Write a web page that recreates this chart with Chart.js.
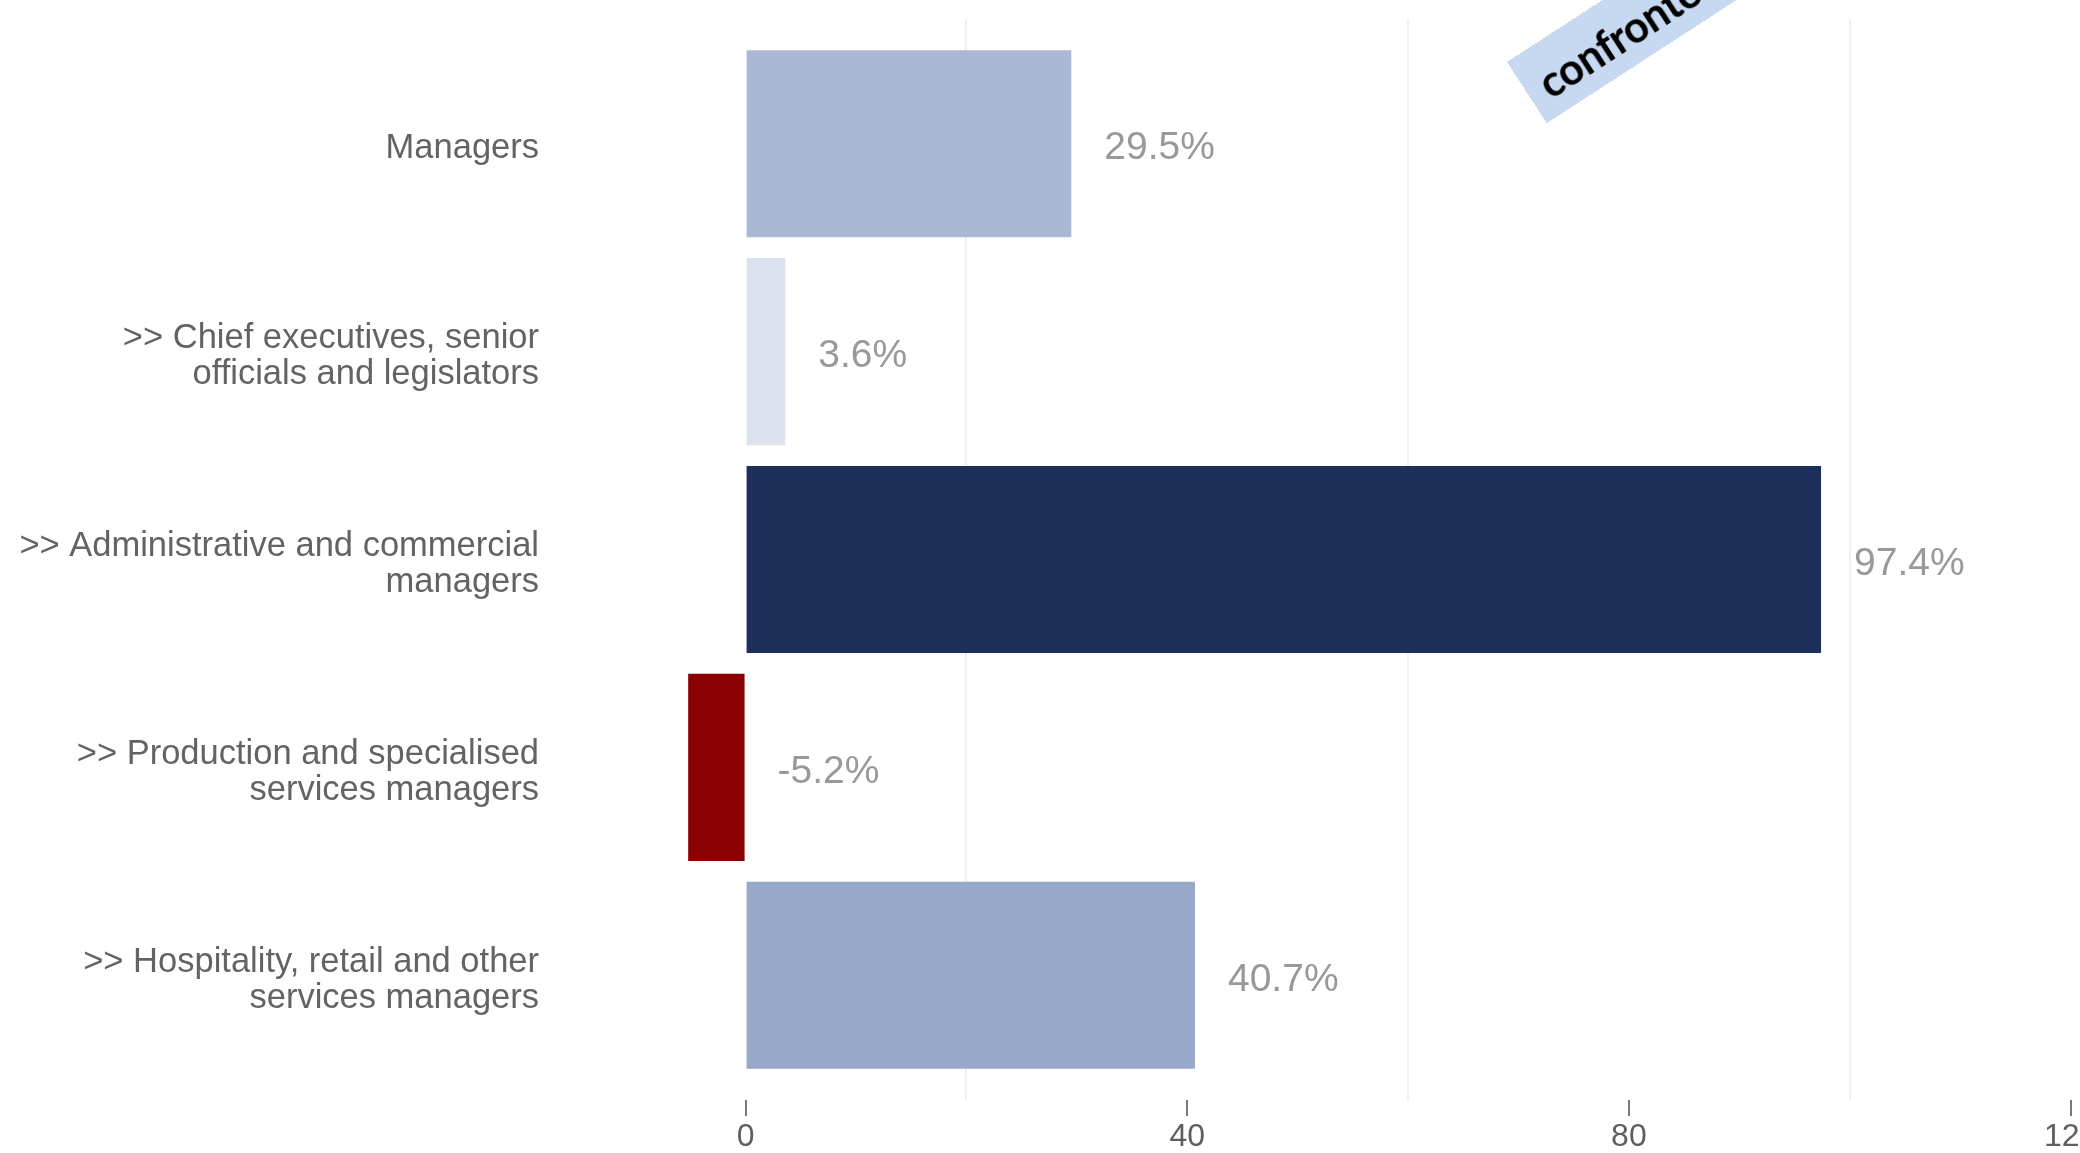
<!DOCTYPE html>
<html>
<head>
<meta charset="utf-8">
<script src="https://cdn.jsdelivr.net/npm/chart.js@4.4.1/dist/chart.umd.min.js"></script>
<style>
    html, body { margin: 0; padding: 0; background: #fff; overflow: hidden; }
    #wrap { position: relative; width: 2080px; height: 1153px; overflow: hidden; }
    #chart { position: absolute; left: 0; top: 0; }
    .ribbon {
        position: absolute;
        left: 1507px;
        top: 62px;
        width: 620px;
        height: 73px;
        background: #C6D9F0;
        transform: rotate(-33deg);
        transform-origin: 0 0;
        font-family: Lato, "Open Sans", sans-serif;
        font-weight: bold;
        font-size: 43px;
        letter-spacing: -0.5px;
        line-height: 80px;
        padding-left: 16px;
        box-sizing: border-box;
        color: #000;
        white-space: nowrap;
        overflow: hidden;
    }
</style>
</head>
<body>
<div id="wrap">
    <canvas id="chart" width="2200" height="1153"></canvas>
    <div class="ribbon">confronto internazionale</div>
</div>
<script>
const categories = [
    ["Managers"],
    [">> Chief executives, senior", "officials and legislators"],
    [">> Administrative and commercial", "managers"],
    [">> Production and specialised", "services managers"],
    [">> Hospitality, retail and other", "services managers"]
];
const changes = [29.5, 3.6, 97.4, -5.2, 40.7];
const barColors = ['#AAB8D4', '#DCE3EE', '#1C2E5A', '#8B0000', '#97A8C9'];
const xTicks = [0, 20, 40, 60, 80, 100, 120];

// percentage next to each bar, to the right of the zero line for negatives
const valueLabels = {
    id: 'valueLabels',
    afterDatasetsDraw(chart) {
        const ctx = chart.ctx;
        const meta = chart.getDatasetMeta(0);
        ctx.save();
        ctx.font = '39px "Liberation Sans", Arial, sans-serif';
        ctx.fillStyle = '#999999';
        ctx.textAlign = 'left';
        ctx.textBaseline = 'middle';
        meta.data.forEach((bar, i) => {
            const x = Math.max(bar.x, bar.base) + 33;
            ctx.fillText(changes[i].toFixed(1) + '%', x, bar.y + 5);
        });
        ctx.restore();
    }
};

new Chart(document.getElementById('chart'), {
    type: 'bar',
    data: {
        datasets: [{
            data: changes.map((v, i) => ({ x: v, y: i })),
            backgroundColor: barColors,
            borderWidth: 0,
            barPercentage: 0.9,
            categoryPercentage: 1.0
        }]
    },
    options: {
        indexAxis: 'y',
        responsive: false,
        animation: false,
        devicePixelRatio: 1,
        layout: { padding: { top: 19, right: 19, left: 0, bottom: 0 } },
        plugins: {
            legend: { display: false },
            tooltip: { enabled: false }
        },
        scales: {
            x: {
                type: 'linear',
                min: -14,
                max: 130,
                offset: false,
                afterBuildTicks: (scale) => { scale.ticks = xTicks.map(v => ({ value: v })); },
                afterFit: (scale) => {
                    scale.height = 53;
                    scale.paddingLeft = 0;
                    scale.paddingRight = 0;
                },
                border: { display: false },
                grid: {
                    lineWidth: 2,
                    tickLength: 16,
                    tickWidth: 2,
                    color: (c) => (c.tick && c.tick.value % 40 === 0) ? 'rgba(0,0,0,0)' : '#F0F0F0',
                    tickColor: (c) => (c.tick && c.tick.value % 40 === 0) ? '#7a7a7a' : 'rgba(0,0,0,0)'
                },
                ticks: {
                    autoSkip: false,
                    maxRotation: 0,
                    padding: 2,
                    color: '#5f5f5f',
                    font: { family: '"Liberation Sans", Arial, sans-serif', size: 32 },
                    callback: (v) => v % 40 === 0 ? String(v) : ''
                }
            },
            y: {
                type: 'linear',
                reverse: true,
                offset: false,
                min: -0.6,
                max: 4.6,
                afterBuildTicks: (scale) => { scale.ticks = categories.map((c, i) => ({ value: i })); },
                afterFit: (scale) => {
                    scale.width = 591;
                    scale.paddingTop = 0;
                    scale.paddingBottom = 0;
                },
                border: { display: false },
                grid: { display: false, drawTicks: false },
                ticks: {
                    autoSkip: false,
                    padding: 52,
                    labelOffset: 5,
                    color: '#636363',
                    font: { family: '"Liberation Sans", Arial, sans-serif', size: 34.5, lineHeight: 1.04 },
                    callback: (v) => categories[v]
                }
            }
        }
    },
    plugins: [valueLabels]
});
</script>
</body>
</html>
